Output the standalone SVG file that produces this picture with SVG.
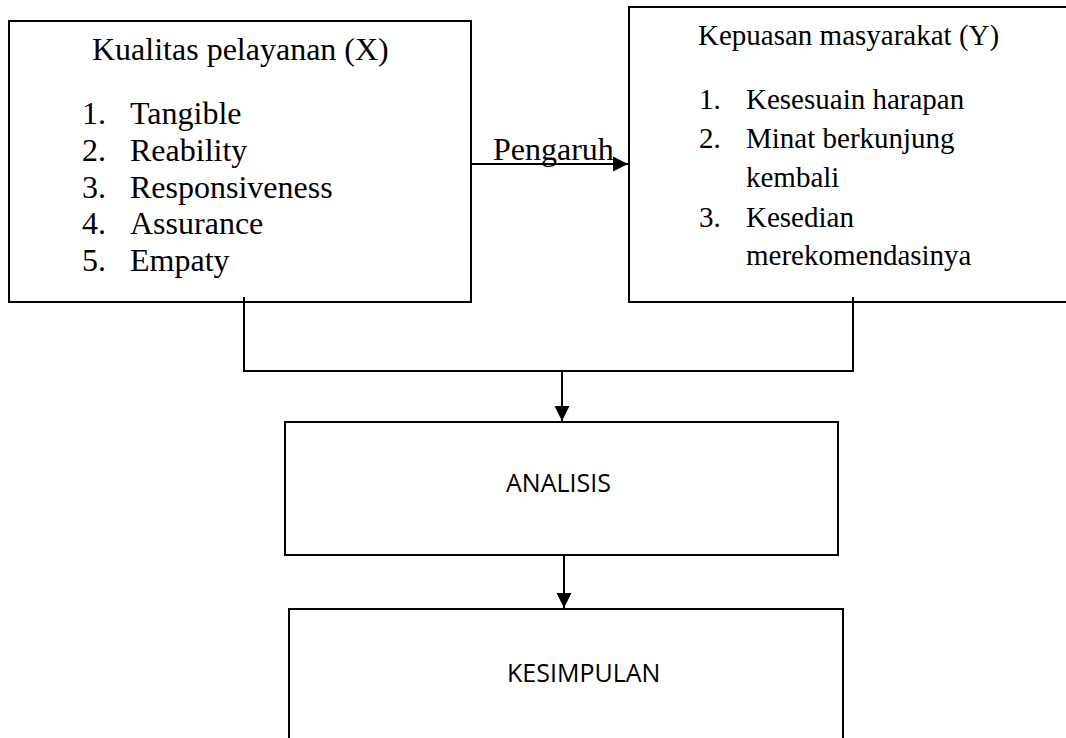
<svg xmlns="http://www.w3.org/2000/svg" width="1066" height="738" viewBox="0 0 1066 738">
<style>
.box{fill:#fff;stroke:#000;stroke-width:2}
.serif{font-family:"Liberation Serif","Times New Roman",serif;fill:#000}
.sans{font-family:"Open Sans","Liberation Sans",sans-serif;fill:#000;font-size:25px}
.conn{fill:none;stroke:#000;stroke-width:2}
</style>
<defs>
<marker id="arr" markerUnits="userSpaceOnUse" markerWidth="16" markerHeight="16" viewBox="0 0 16 16" refX="15" refY="8" orient="auto">
<path d="M0,0.5 L15,8 L0,15.5 Z" fill="#000"/>
</marker>
</defs>
<rect width="1066" height="738" fill="#fff"/>
<g id="node-x">
<rect class="box" x="9" y="21" width="462" height="281"/>
<g class="serif" font-size="32">
<text x="92" y="60">Kualitas pelayanan (X)</text>
<text x="82" y="124">1.</text><text x="130" y="124">Tangible</text>
<text x="82" y="161">2.</text><text x="130" y="161">Reability</text>
<text x="82" y="198">3.</text><text x="130" y="198">Responsiveness</text>
<text x="82" y="234">4.</text><text x="130" y="234">Assurance</text>
<text x="82" y="271">5.</text><text x="130" y="271">Empaty</text>
</g>
</g>
<g id="node-y">
<rect class="box" x="629" y="7" width="450" height="295"/>
<g class="serif" font-size="29">
<text x="698" y="45">Kepuasan masyarakat (Y)</text>
<text x="699" y="109">1.</text><text x="746" y="109">Kesesuain harapan</text>
<text x="699" y="148">2.</text><text x="746" y="148">Minat berkunjung</text>
<text x="746" y="187">kembali</text>
<text x="699" y="227">3.</text><text x="746" y="227">Kesedian</text>
<text x="746" y="265">merekomendasinya</text>
</g>
</g>
<g id="node-analisis">
<rect class="box" x="285" y="422" width="553" height="133"/>
<text class="sans" x="506" y="492">ANALISIS</text>
</g>
<g id="node-kesimpulan">
<rect class="box" x="289" y="609" width="554" height="150"/>
<text class="sans" x="507" y="682">KESIMPULAN</text>
</g>
<g id="connectors">
<path class="conn" d="M471,164 L628,164" marker-end="url(#arr)"/>
<text class="serif" font-size="32" x="493" y="160">Pengaruh</text>
<path class="conn" d="M244,297 L244,371 L853,371 L853,297"/>
<path class="conn" d="M562,371 L562,421" marker-end="url(#arr)"/>
<path class="conn" d="M564,555 L564,608" marker-end="url(#arr)"/>
</g>
</svg>
